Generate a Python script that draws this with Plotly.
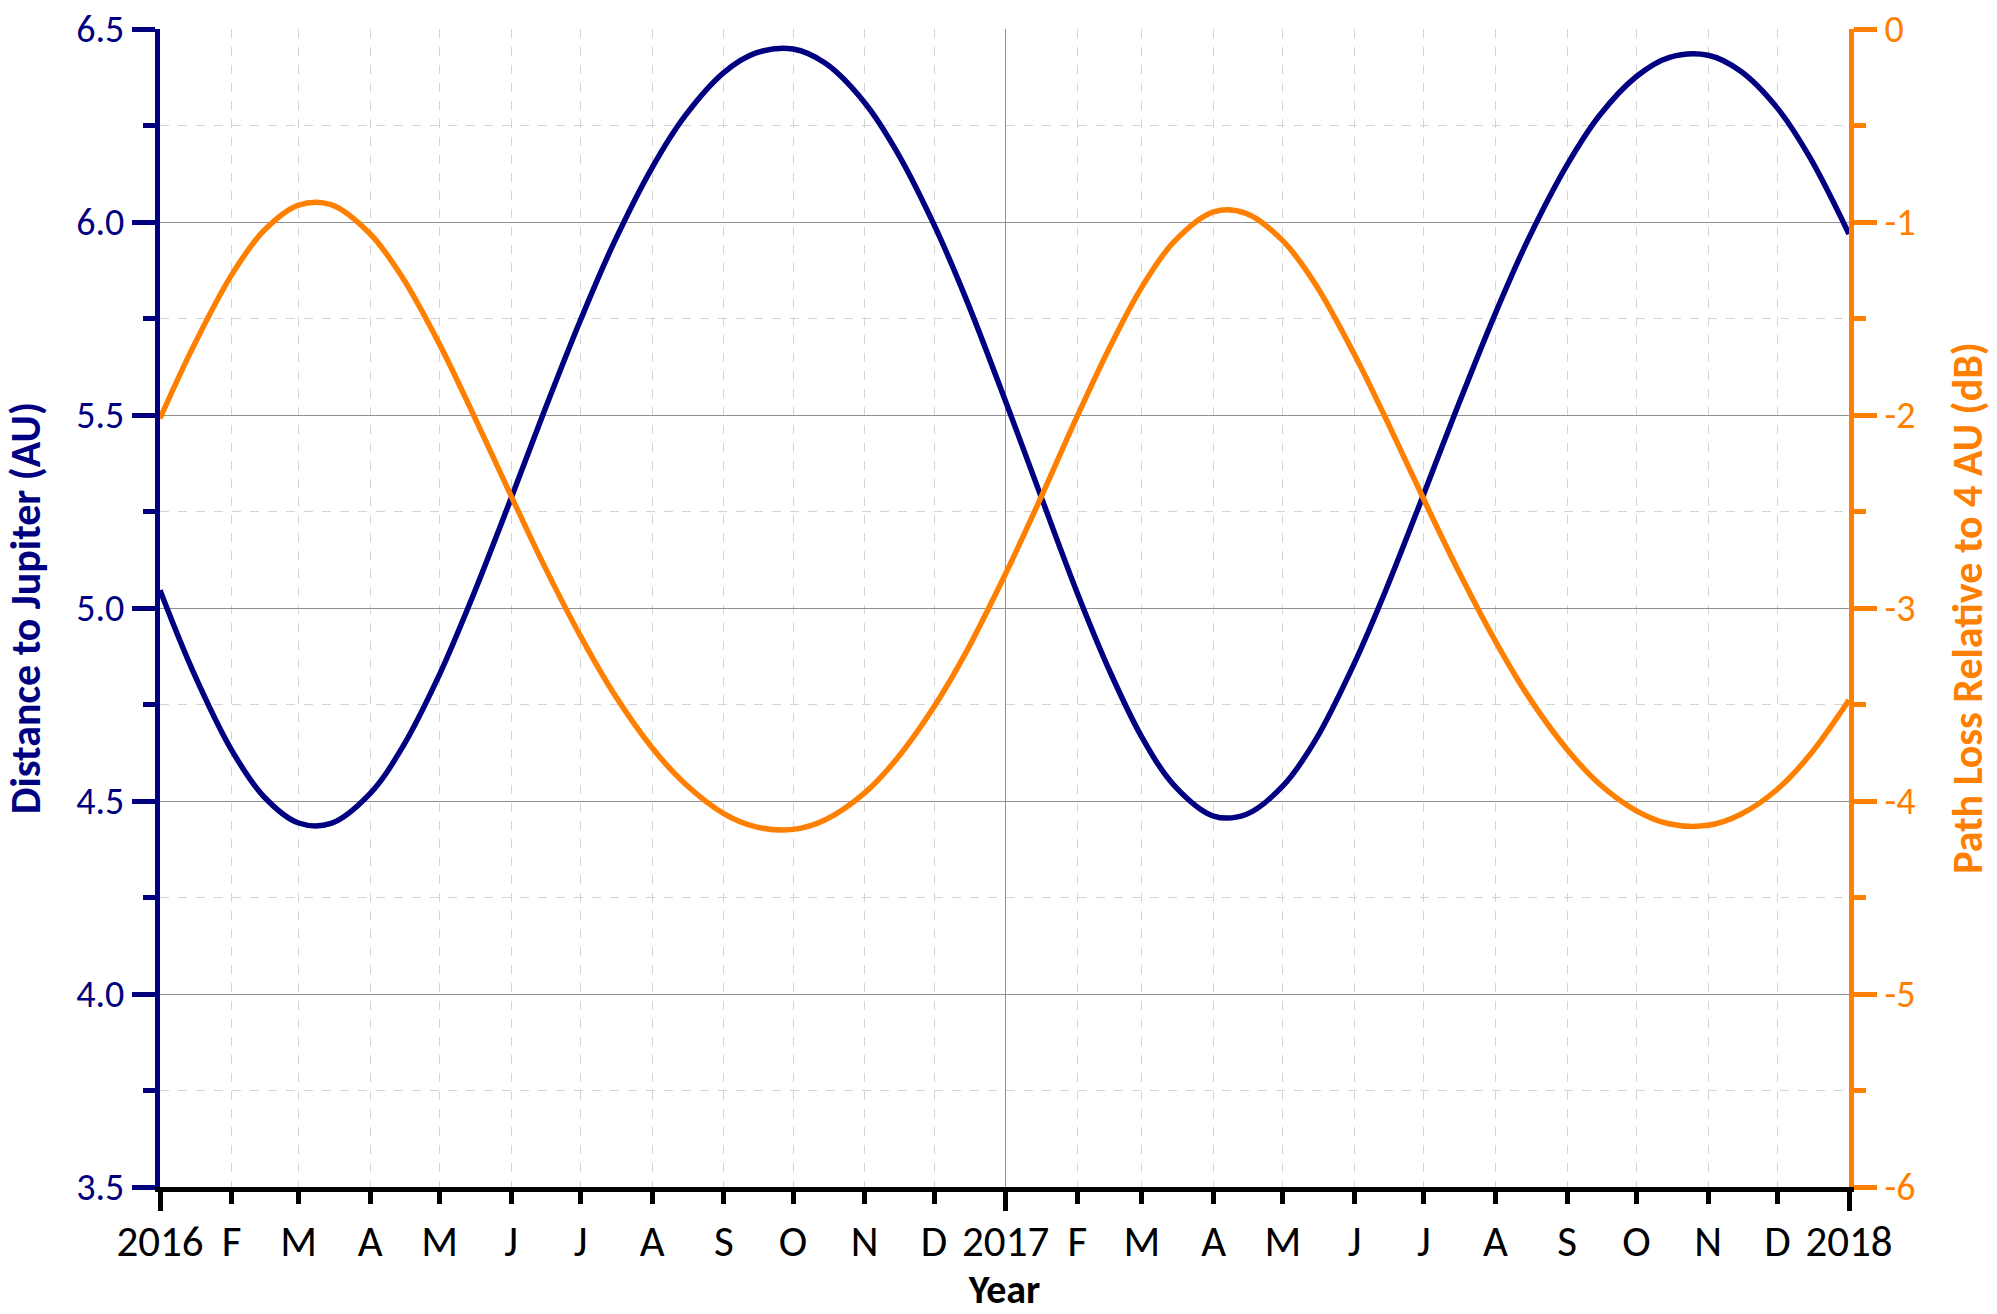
import plotly.graph_objects as go

# Semi-monthly sample dates (1st and 15th of each month)
dates = []
for yr in (2016, 2017):
    for m in range(1, 13):
        dates.append("%d-%02d-01" % (yr, m))
        dates.append("%d-%02d-15" % (yr, m))
dates.append("2018-01-01")

distance_au = [5.046, 4.840, 4.632, 4.511, 4.443, 4.442, 4.520, 4.640, 4.828, 5.025,
               5.285, 5.505, 5.746, 5.940, 6.141, 6.273, 6.387, 6.438, 6.448, 6.411,
               6.309, 6.181, 5.993, 5.799,
               5.535, 5.310, 5.039, 4.837, 4.665, 4.540, 4.461, 4.465, 4.539, 4.657,
               4.858, 5.053, 5.296, 5.512, 5.764, 5.953, 6.148, 6.276, 6.377, 6.426,
               6.432, 6.391, 6.295, 6.168,
               5.969]
path_loss_db = [-2.018, -1.656, -1.274, -1.044, -0.912, -0.910, -1.062, -1.289, -1.634, -1.982,
                -2.420, -2.774, -3.146, -3.435, -3.724, -3.908, -4.065, -4.134, -4.147, -4.097,
                -3.958, -3.780, -3.512, -3.226,
                -2.821, -2.461, -2.006, -1.650, -1.336, -1.100, -0.947, -0.955, -1.098, -1.321,
                -1.688, -2.030, -2.438, -2.785, -3.173, -3.454, -3.733, -3.912, -4.051, -4.118,
                -4.126, -4.070, -3.939, -3.762,
                -3.477]

month_ticks = ["2016-%02d-01" % m for m in range(1, 13)] + \
              ["2017-%02d-01" % m for m in range(1, 13)] + ["2018-01-01"]
month_labels = ["2016", "F", "M", "A", "M", "J", "J", "A", "S", "O", "N", "D",
                "2017", "F", "M", "A", "M", "J", "J", "A", "S", "O", "N", "D", "2018"]
year_ticks = ["2016-01-01", "2017-01-01", "2018-01-01"]
db_ticks = [-6, -5, -4, -3, -2, -1, 0]
db_labels = ["-6", "-5", "-4", "-3", "-2", "-1", "0"]

NAVY = "#000080"
ORANGE = "#FF8000"
FONT = "Carlito, Lato, sans-serif"
x_range = ["2016-01-01", "2018-01-01"]

fig = go.Figure()
fig.add_trace(go.Scatter(x=dates, y=distance_au, mode="lines", xaxis="x2", yaxis="y",
                         line=dict(width=0), opacity=0, hoverinfo="skip", showlegend=False))
fig.add_trace(go.Scatter(x=dates, y=distance_au, mode="lines", name="Distance",
                         line=dict(color=NAVY, width=5.5, shape="spline"),
                         xaxis="x", yaxis="y", showlegend=False))
fig.add_trace(go.Scatter(x=dates, y=path_loss_db, mode="lines", name="Path loss",
                         line=dict(color=ORANGE, width=5.5, shape="spline"),
                         xaxis="x", yaxis="y2", showlegend=False))

fig.update_layout(
    width=1997, height=1314,
    margin=dict(l=160, r=148, t=29, b=127),
    paper_bgcolor="white", plot_bgcolor="white",
    font=dict(family=FONT, color="black"),
    xaxis=dict(
        type="date", range=x_range, automargin=False,
        tickmode="array", tickvals=month_ticks, ticktext=month_labels,
        ticks="outside", ticklen=12, tickwidth=5, tickcolor="black",
        tickfont=dict(size=43, color="black", family=FONT),
        ticklabeloverflow="allow",
        showline=True, linecolor="black", linewidth=5,
        showgrid=True, gridcolor="#d4d4d4", griddash="dash", gridwidth=1.3,
        zeroline=False,
        title=dict(text="<b>Year</b>", font=dict(size=40, color="black", family=FONT), standoff=2),
    ),
    xaxis2=dict(
        type="date", range=x_range, overlaying="x", anchor="y", side="bottom",
        automargin=False,
        tickmode="array", tickvals=year_ticks, showticklabels=False,
        ticks="outside", ticklen=23, tickwidth=5, tickcolor="black",
        showgrid=True, gridcolor="#909090", gridwidth=1.3,
        showline=False, zeroline=False,
    ),
    yaxis=dict(
        range=[3.5, 6.5], dtick=0.5, tick0=3.5, tickformat=".1f", automargin=False,
        ticks="outside", ticklen=23, tickwidth=5, tickcolor=NAVY,
        tickfont=dict(size=38, color=NAVY, family=FONT),
        ticklabeloverflow="allow",
        showline=True, linecolor=NAVY, linewidth=5,
        showgrid=True, gridcolor="#909090", gridwidth=1.3, zeroline=False,
        minor=dict(dtick=0.25, tick0=3.5, ticks="outside", ticklen=12, tickwidth=5,
                   tickcolor=NAVY, showgrid=True, gridcolor="#d4d4d4",
                   griddash="dash", gridwidth=1.3),
        title=dict(text="<b>Distance to Jupiter (AU)</b>",
                   font=dict(size=42, color=NAVY, family=FONT), standoff=29),
    ),
    yaxis2=dict(
        range=[-6, 0], tickmode="array", tickvals=db_ticks, ticktext=db_labels,
        overlaying="y", side="right", anchor="x", automargin=False,
        ticks="outside", ticklen=23, tickwidth=5, tickcolor=ORANGE,
        tickfont=dict(size=38, color=ORANGE, family=FONT),
        ticklabeloverflow="allow",
        showline=True, linecolor=ORANGE, linewidth=5,
        showgrid=False, zeroline=False,
        minor=dict(dtick=0.5, tick0=-6, ticks="outside", ticklen=12, tickwidth=5,
                   tickcolor=ORANGE, showgrid=False),
        title=dict(text="<b>Path Loss Relative to 4 AU (dB)</b>",
                   font=dict(size=42, color=ORANGE, family=FONT), standoff=40),
    ),
)

fig.write_html("out.html",
               config={"displayModeBar": False},
               post_script="document.body.style.margin='0px';document.body.style.overflow='hidden';")
